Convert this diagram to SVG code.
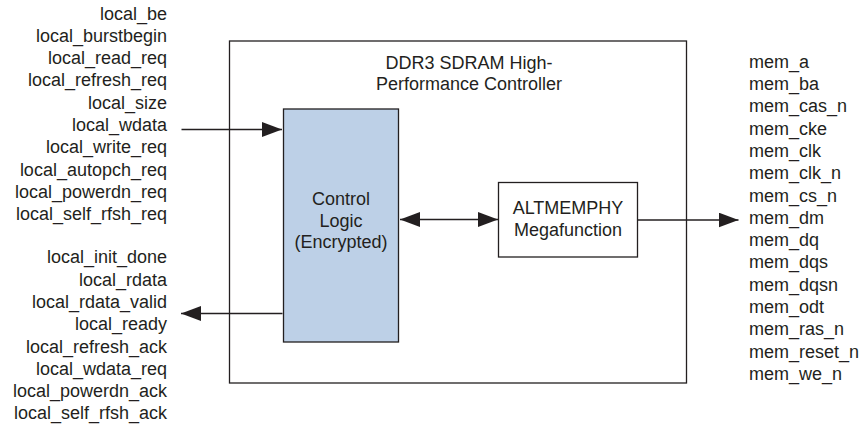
<svg xmlns="http://www.w3.org/2000/svg" width="864" height="425" viewBox="0 0 864 425">
<style>
text{font-family:"Liberation Sans",Arial,sans-serif;font-size:18px;fill:#231f20}
.r{text-anchor:end}
.c{text-anchor:middle}
.box{fill:#fff;stroke:#231f20;stroke-width:1.3}
.blue{fill:#bdd0e7;stroke:#231f20;stroke-width:1.3}
.ln{stroke:#231f20;stroke-width:1.3;fill:none}
</style>
<defs>
<marker id="ah" markerUnits="userSpaceOnUse" markerWidth="20" markerHeight="15" refX="20" refY="7.5" orient="auto-start-reverse" viewBox="0 0 20 15">
<path d="M0,0 L20,7.5 L0,15 z" fill="#231f20"/>
</marker>
</defs>
<rect width="864" height="425" fill="#fff"/>
<g id="controller">
<rect class="box" x="229.5" y="41" width="457" height="342"/>
<text class="c" x="469" y="68.5">DDR3 SDRAM High-</text>
<text class="c" x="469" y="90">Performance Controller</text>
</g>
<g id="control_logic">
<rect class="blue" x="283.5" y="109" width="115" height="233"/>
<text class="c" x="341" y="205">Control</text>
<text class="c" x="341" y="226.5">Logic</text>
<text class="c" x="341" y="248">(Encrypted)</text>
</g>
<g id="altmemphy">
<rect class="box" x="498.5" y="182.5" width="139" height="74.5"/>
<text class="c" x="568" y="214">ALTMEMPHY</text>
<text class="c" x="568" y="235.5">Megafunction</text>
</g>
<g id="inputs">
<text class="r" x="167" y="19.5">local_be</text>
<text class="r" x="167" y="41.8">local_burstbegin</text>
<text class="r" x="167" y="64.1">local_read_req</text>
<text class="r" x="167" y="86.4">local_refresh_req</text>
<text class="r" x="167" y="108.7">local_size</text>
<text class="r" x="167" y="131">local_wdata</text>
<text class="r" x="167" y="153.3">local_write_req</text>
<text class="r" x="167" y="175.6">local_autopch_req</text>
<text class="r" x="167" y="197.9">local_powerdn_req</text>
<text class="r" x="167" y="220.2">local_self_rfsh_req</text>
</g>
<g id="outputs">
<text class="r" x="167" y="263.3">local_init_done</text>
<text class="r" x="167" y="285.6">local_rdata</text>
<text class="r" x="167" y="307.9">local_rdata_valid</text>
<text class="r" x="167" y="330.2">local_ready</text>
<text class="r" x="167" y="352.5">local_refresh_ack</text>
<text class="r" x="167" y="374.8">local_wdata_req</text>
<text class="r" x="167" y="397.1">local_powerdn_ack</text>
<text class="r" x="167" y="419.4">local_self_rfsh_ack</text>
</g>
<g id="memory">
<text x="749" y="67.7">mem_a</text>
<text x="749" y="90">mem_ba</text>
<text x="749" y="112.3">mem_cas_n</text>
<text x="749" y="134.6">mem_cke</text>
<text x="749" y="156.9">mem_clk</text>
<text x="749" y="179.2">mem_clk_n</text>
<text x="749" y="201.5">mem_cs_n</text>
<text x="749" y="223.8">mem_dm</text>
<text x="749" y="246.1">mem_dq</text>
<text x="749" y="268.4">mem_dqs</text>
<text x="749" y="290.7">mem_dqsn</text>
<text x="749" y="313">mem_odt</text>
<text x="749" y="335.3">mem_ras_n</text>
<text x="749" y="357.6">mem_reset_n</text>
<text x="749" y="379.9">mem_we_n</text>
</g>
<g id="connectors">
<line class="ln" x1="181.5" y1="129.5" x2="282" y2="129.5" marker-end="url(#ah)"/>
<line class="ln" x1="282.5" y1="313.5" x2="181" y2="313.5" marker-end="url(#ah)"/>
<line class="ln" x1="400" y1="219.5" x2="498" y2="219.5" marker-start="url(#ah)" marker-end="url(#ah)"/>
<line class="ln" x1="638" y1="220" x2="738.5" y2="220" marker-end="url(#ah)"/>
</g>
</svg>
